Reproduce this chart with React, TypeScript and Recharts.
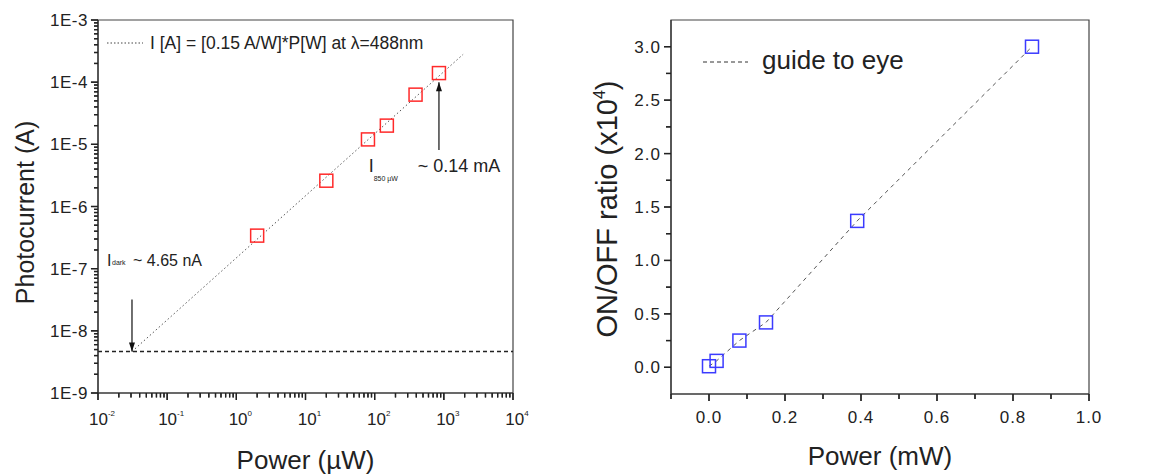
import { ScatterChart, Scatter, XAxis, YAxis, ReferenceLine, ReferenceArea } from 'recharts';

const FONT = '"Liberation Sans", Arial, sans-serif';
const INK = '#222';

// left panel: photocurrent vs optical power (log-log)
const POWER_UW = [2, 20, 80, 150, 390, 850];
const CURRENT_A = [3.4e-7, 2.6e-6, 1.2e-5, 2.0e-5, 6.3e-5, 1.4e-4];
const FIT_POWER_UW = [0.031, 1900];
const FIT_CURRENT_A = [4.65e-9, 2.8e-4];
const I_DARK = 4.65e-9;
const X_DECADES = [-2, -1, 0, 1, 2, 3, 4];
const Y_DECADES = [-9, -8, -7, -6, -5, -4, -3];

// annotation anchors (data coordinates)
const DARK_ARROW = [
  { x: 0.031, y: 3.2e-8, head: '' },
  { x: 0.031, y: I_DARK, head: 'down' },
];
const P850_ARROW = [
  { x: 850, y: 8.1e-6, head: '' },
  { x: 850, y: 1.0e-4, head: 'up' },
];
const DARK_LABEL = [{ x: 0.0135, y: 1.12e-7 }];
const P850_LABEL = [{ x: 82, y: 3.6e-6 }];

// right panel: ON/OFF ratio vs power (linear)
const POWER_MW = [0, 0.02, 0.08, 0.15, 0.39, 0.85];
const RATIO_E4 = [0.01, 0.06, 0.25, 0.42, 1.37, 3.0];
const R_X_MAJOR = [0, 0.2, 0.4, 0.6, 0.8, 1.0];
const R_X_MINOR = [-0.1, 0.1, 0.3, 0.5, 0.7, 0.9];
const R_Y_MAJOR = [0, 0.5, 1.0, 1.5, 2.0, 2.5, 3.0];
const R_Y_MINOR = [0.25, 0.75, 1.25, 1.75, 2.25, 2.75];

const photo = POWER_UW.map((x, i) => ({ x, y: CURRENT_A[i] }));
const fit = FIT_POWER_UW.map((x, i) => ({ x, y: FIT_CURRENT_A[i] }));
const ratio = POWER_MW.map((x, i) => ({ x, y: RATIO_E4[i] }));

const logTicks = (decades: number[]) =>
  decades.flatMap((d, i) =>
    i === decades.length - 1 ? [10 ** d] : [1, 2, 3, 4, 5, 6, 7, 8, 9].map((m) => m * 10 ** d)
  );

const isDecade = (v: number) => {
  const e = Math.log10(v);
  return Math.abs(e - Math.round(e)) < 1e-6;
};
const inList = (v: number, list: number[]) => list.some((m) => Math.abs(m - v) < 1e-6);

const L_X_TICKS = logTicks(X_DECADES);
const L_Y_TICKS = logTicks(Y_DECADES);
const R_X_TICKS = [...R_X_MINOR, ...R_X_MAJOR].sort((a, b) => a - b);
const R_Y_TICKS = [...R_Y_MINOR, ...R_Y_MAJOR].sort((a, b) => a - b);

// tick marks drawn as filled rects (outward)
function LogXTick(props: any) {
  const { x, y, payload } = props;
  const major = isDecade(payload.value);
  const e = Math.round(Math.log10(payload.value));
  return (
    <g>
      <rect x={x - 0.65} y={y} width={1.3} height={major ? 7 : 4.5} fill="#222" />
      {major && (
        <text x={x + 4} y={y + 32} textAnchor="middle" fontSize={17} fill={INK} fontFamily={FONT}>
          10<tspan dy={-9} fontSize={8}>{e}</tspan>
        </text>
      )}
    </g>
  );
}

function LogYTick(props: any) {
  const { x, y, payload } = props;
  const major = isDecade(payload.value);
  const e = Math.round(Math.log10(payload.value));
  const len = major ? 7 : 4;
  return (
    <g>
      <rect x={x - len} y={y - 0.65} width={len} height={1.3} fill="#222" />
      {major && (
        <text x={x - 10} y={y + 6} textAnchor="end" fontSize={17} letterSpacing={0.5} fill={INK} fontFamily={FONT}>
          {`1E${e}`}
        </text>
      )}
    </g>
  );
}

function LinXTick(props: any) {
  const { x, y, payload } = props;
  const major = inList(payload.value, R_X_MAJOR);
  return (
    <g>
      <rect x={x - 0.65} y={y} width={1.3} height={major ? 7 : 5} fill="#222" />
      {major && (
        <text x={x} y={y + 29} textAnchor="middle" fontSize={17} letterSpacing={1} fill={INK} fontFamily={FONT}>
          {payload.value.toFixed(1)}
        </text>
      )}
    </g>
  );
}

function LinYTick(props: any) {
  const { x, y, payload } = props;
  const major = inList(payload.value, R_Y_MAJOR);
  const len = major ? 7 : 5;
  return (
    <g>
      <rect x={x - len} y={y - 0.65} width={len} height={1.3} fill="#222" />
      {major && (
        <text x={x - 10} y={y + 6} textAnchor="end" fontSize={17} letterSpacing={1} fill={INK} fontFamily={FONT}>
          {payload.value.toFixed(1)}
        </text>
      )}
    </g>
  );
}

// axis titles drawn inside the chart svg from the axis viewBox
function XTitle({ viewBox, text, dy }: any) {
  if (!viewBox) return null;
  return (
    <text x={viewBox.x + viewBox.width / 2} y={viewBox.y + dy} textAnchor="middle" fontSize={26} fill={INK} fontFamily={FONT}>
      {text}
    </text>
  );
}

function YTitle({ viewBox, text, bx, dy, size, sup }: any) {
  if (!viewBox) return null;
  const cy = viewBox.y + viewBox.height / 2 + dy;
  return (
    <text transform={`translate(${viewBox.x + bx},${cy}) rotate(-90)`} textAnchor="middle" fontSize={size} fill={INK} fontFamily={FONT}>
      {text}
      {sup && (
        <>
          <tspan dy={-12} fontSize={16}>{sup}</tspan>
          <tspan dy={12}>)</tspan>
        </>
      )}
    </text>
  );
}

const square = (color: string) => (p: any) =>
  <rect x={p.cx - 6.5} y={p.cy - 6.5} width={13} height={13} fill="none" stroke={color} strokeWidth={1.5} />;

const arrowHead = (p: any) => {
  const h = p.payload.head;
  if (!h) return <g />;
  const s = h === 'down' ? -1 : 1;
  return (
    <polygon
      points={`${p.cx - 3},${p.cy + s * 9} ${p.cx + 3},${p.cy + s * 9} ${p.cx},${p.cy}`}
      fill="#111"
    />
  );
};

const nothing = () => <g />;

const darkLabel = (p: any) => (
  <g fontFamily={FONT} fill={INK}>
    <text x={p.cx} y={p.cy} fontSize={16}>I</text>
    <text x={p.cx + 5} y={p.cy - 1} fontSize={7}>dark</text>
    <text x={p.cx + 26} y={p.cy} fontSize={16}>~ 4.65 nA</text>
  </g>
);

const p850Label = (p: any) => (
  <g fontFamily={FONT} fill={INK}>
    <text x={p.cx} y={p.cy} fontSize={18}>I</text>
    <text x={p.cx + 5} y={p.cy + 9} fontSize={7}>850 µW</text>
    <text x={p.cx + 49} y={p.cy} fontSize={18}>~ 0.14 mA</text>
  </g>
);

const tickRef = { stroke: '#222', strokeWidth: 1.3, ifOverflow: 'visible' as const };

function PhotocurrentPanel() {
  return (
    <ScatterChart width={580} height={475} margin={{ top: 20, right: 67, bottom: 0, left: 0 }}>
      <XAxis
        type="number"
        dataKey="x"
        scale="log"
        domain={[0.01, 10000]}
        ticks={L_X_TICKS}
        interval={0}
        allowDataOverflow
        height={82}
        tickSize={0}
        tickMargin={0}
        tickLine={false}
        axisLine={{ stroke: '#333', strokeWidth: 1.2 }}
        tick={(p: any) => <LogXTick {...p} />}
        label={<XTitle text="Power (µW)" dy={76} />}
      />
      <YAxis
        type="number"
        dataKey="y"
        scale="log"
        domain={[1e-9, 1e-3]}
        ticks={L_Y_TICKS}
        interval={0}
        allowDataOverflow
        width={98}
        tickSize={0}
        tickMargin={0}
        tickLine={false}
        axisLine={{ stroke: '#333', strokeWidth: 1.2 }}
        tick={(p: any) => <LogYTick {...p} />}
        label={<YTitle text="Photocurrent (A)" bx={34} dy={6} size={25} />}
      />
      {/* outward tick marks along both axes */}
      {L_X_TICKS.map((v) => (
        <ReferenceLine key={`lx${v}`} segment={[{ x: v, y: 1e-9 }, { x: v, y: isDecade(v) ? 7.7e-10 : 8.5e-10 }]} {...tickRef} />
      ))}
      {L_Y_TICKS.map((v) => (
        <ReferenceLine key={`ly${v}`} segment={[{ x: 0.01, y: v }, { x: isDecade(v) ? 0.0079 : 0.00875, y: v }]} {...tickRef} />
      ))}
      <ReferenceArea x1={0.01} x2={10000} y1={1e-9} y2={1e-3} fill="none" stroke="#444" strokeWidth={1.2} />
      <ReferenceLine y={I_DARK} stroke="#222" strokeWidth={1.3} strokeDasharray="4 3" />
      <Scatter
        data={fit}
        line={{ stroke: '#555', strokeWidth: 1, strokeDasharray: '1.5 2.5' }}
        lineType="joint"
        shape={nothing}
        isAnimationActive={false}
      />
      <Scatter data={photo} shape={square('#ff2a2a')} isAnimationActive={false} />
      <Scatter
        data={DARK_ARROW}
        line={{ stroke: '#111', strokeWidth: 1.2 }}
        lineType="joint"
        shape={arrowHead}
        isAnimationActive={false}
      />
      <Scatter
        data={P850_ARROW}
        line={{ stroke: '#111', strokeWidth: 1.2 }}
        lineType="joint"
        shape={arrowHead}
        isAnimationActive={false}
      />
      <Scatter data={DARK_LABEL} shape={darkLabel} isAnimationActive={false} />
      <Scatter data={P850_LABEL} shape={p850Label} isAnimationActive={false} />
    </ScatterChart>
  );
}

function RatioPanel() {
  return (
    <ScatterChart width={577} height={475} margin={{ top: 20, right: 68, bottom: 0, left: 0 }}>
      <XAxis
        type="number"
        dataKey="x"
        domain={[-0.1, 1.0]}
        ticks={R_X_TICKS}
        interval={0}
        allowDataOverflow
        height={81}
        tickSize={0}
        tickMargin={0}
        tickLine={false}
        axisLine={{ stroke: '#333', strokeWidth: 1.2 }}
        tick={(p: any) => <LinXTick {...p} />}
        label={<XTitle text="Power (mW)" dy={71} />}
      />
      <YAxis
        type="number"
        dataKey="y"
        domain={[-0.25, 3.25]}
        ticks={R_Y_TICKS}
        interval={0}
        allowDataOverflow
        width={91}
        tickSize={0}
        tickMargin={0}
        tickLine={false}
        axisLine={{ stroke: '#333', strokeWidth: 1.2 }}
        tick={(p: any) => <LinYTick {...p} />}
        label={<YTitle text="ON/OFF ratio (x10" sup="4" bx={37} dy={2} size={29} />}
      />
      {R_X_TICKS.map((v) => (
        <ReferenceLine key={`rx${v}`} segment={[{ x: v, y: -0.25 }, { x: v, y: inList(v, R_X_MAJOR) ? -0.315 : -0.297 }]} {...tickRef} />
      ))}
      {R_Y_TICKS.map((v) => (
        <ReferenceLine key={`ry${v}`} segment={[{ x: -0.1, y: v }, { x: inList(v, R_Y_MAJOR) ? -0.1184 : -0.1132, y: v }]} {...tickRef} />
      ))}
      <ReferenceArea x1={-0.1} x2={1.0} y1={-0.25} y2={3.25} fill="none" stroke="#444" strokeWidth={1.2} />
      <Scatter
        data={ratio}
        line={{ stroke: '#555', strokeWidth: 1, strokeDasharray: '4 4' }}
        lineType="joint"
        shape={square('#3b3bff')}
        isAnimationActive={false}
      />
    </ScatterChart>
  );
}

export default function App() {
  return (
    <div style={{ position: 'absolute', left: 0, top: 0, width: 1157, height: 475, background: '#fff', fontFamily: FONT }}>
      <div style={{ position: 'absolute', left: 0, top: 0 }}>
        <PhotocurrentPanel />
      </div>
      <div style={{ position: 'absolute', left: 580, top: 0 }}>
        <RatioPanel />
      </div>
      {/* legends */}
      <svg width={340} height={24} style={{ position: 'absolute', left: 100, top: 31 }} fontFamily={FONT}>
        <line x1={7} x2={43} y1={12} y2={12} stroke="#444" strokeDasharray="1.5 2" />
        <text x={50} y={18} fontSize={17.5} fill={INK}>I [A] = [0.15 A/W]*P[W] at λ=488nm</text>
      </svg>
      <svg width={220} height={34} style={{ position: 'absolute', left: 700, top: 44 }} fontFamily={FONT}>
        <line x1={3} x2={48} y1={18} y2={18} stroke="#333" strokeDasharray="4 3" />
        <text x={62} y={25} fontSize={26} fill={INK}>guide to eye</text>
      </svg>
    </div>
  );
}
